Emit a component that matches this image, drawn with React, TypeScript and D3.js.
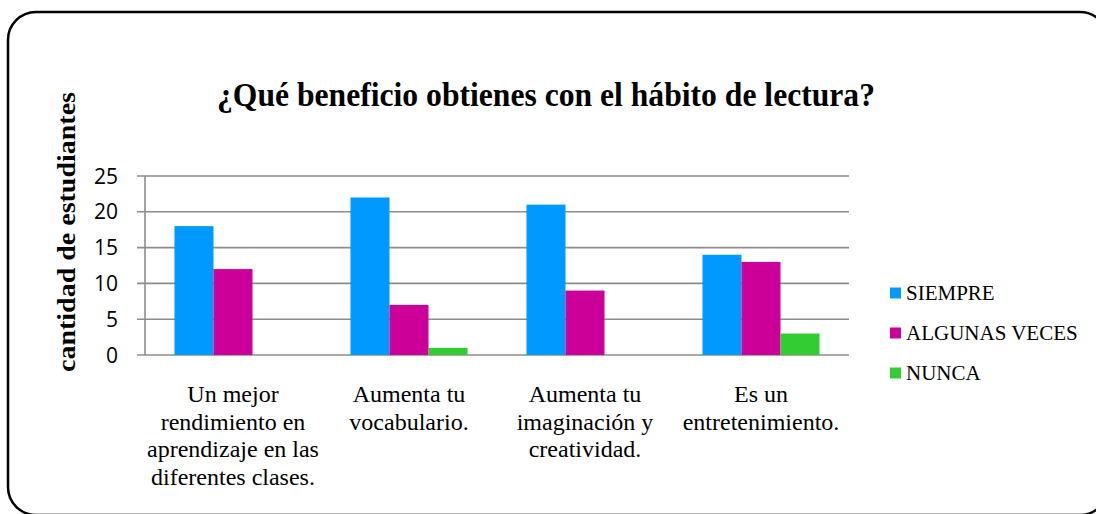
import React from "react";
import * as d3 from "d3";

const categories = [
  ["Un mejor", "rendimiento en", "aprendizaje en las", "diferentes clases."],
  ["Aumenta tu", "vocabulario."],
  ["Aumenta tu", "imaginación y", "creatividad."],
  ["Es un", "entretenimiento."],
];
const seriesNames = ["SIEMPRE", "ALGUNAS VECES", "NUNCA"];
const siempre = [18, 22, 21, 14];
const algunasVeces = [12, 7, 9, 13];
const nunca = [0, 1, 0, 3];
const yTicks = [0, 5, 10, 15, 20, 25];
const colors = ["#0099ff", "#cc0099", "#33cc33"];

const title = "¿Qué beneficio obtienes con el hábito de lectura?";
const yTitle = "cantidad de estudiantes";

const width = 1096;
const height = 514;

export default function App() {
  const plot = { left: 145, right: 849, top: 176, bottom: 355 };
  const series = [siempre, algunasVeces, nunca];
  const catKeys = categories.map((_, i) => String(i));

  const x = d3
    .scaleBand()
    .domain(catKeys)
    .range([plot.left, plot.right])
    .paddingInner(0.335)
    .paddingOuter(0.1675);
  const xs = d3
    .scaleBand()
    .domain(seriesNames)
    .range([0, x.bandwidth()]);
  const y = d3.scaleLinear().domain([0, 25]).range([plot.bottom, plot.top]);

  const serif = "'Liberation Serif', 'Times New Roman', serif";

  return (
    <svg
      width={width}
      height={height}
      style={{ position: "absolute", left: 0, top: 0, background: "#fff" }}
    >
      <rect
        x={8}
        y={12}
        width={1100}
        height={503}
        rx={28}
        ry={28}
        fill="#fff"
        stroke="#000"
        strokeWidth={2.5}
      />

      <text
        x={546}
        y={106}
        textAnchor="middle"
        fontFamily={serif}
        fontWeight="bold"
        fontSize={33}
        textLength={658}
        lengthAdjust="spacingAndGlyphs"
      >
        {title}
      </text>

      <text
        transform={`translate(75, ${(92 + 372) / 2}) rotate(-90)`}
        textAnchor="middle"
        fontFamily={serif}
        fontWeight="bold"
        fontSize={26}
        textLength={280}
        lengthAdjust="spacingAndGlyphs"
      >
        {yTitle}
      </text>

      {/* gridlines + y ticks */}
      {yTicks.map((t) => (
        <g key={t}>
          <line
            x1={plot.left - 8}
            x2={plot.right}
            y1={y(t)}
            y2={y(t)}
            stroke="#8c8c8c"
            strokeWidth={1.6}
          />
          <text
            x={118}
            y={y(t)}
            dy="0.36em"
            textAnchor="end"
            fontFamily="'Open Sans', sans-serif"
            fontSize={21}
            fill="#000"
          >
            {t}
          </text>
        </g>
      ))}
      <line
        x1={plot.left}
        x2={plot.left}
        y1={plot.top}
        y2={plot.bottom}
        stroke="#8c8c8c"
        strokeWidth={1.6}
      />

      {/* bars */}
      {catKeys.map((c, i) => (
        <g key={c} transform={`translate(${x(c)},0)`}>
          {series.map((vals, s) =>
            vals[i] > 0 ? (
              <rect
                key={s}
                x={xs(seriesNames[s])}
                y={y(vals[i])}
                width={xs.bandwidth()}
                height={y(0) - y(vals[i])}
                fill={colors[s]}
              />
            ) : null
          )}
        </g>
      ))}

      {/* x labels */}
      {categories.map((lines, i) => (
        <text
          key={i}
          x={(x(String(i)) as number) + x.bandwidth() / 2}
          y={402}
          textAnchor="middle"
          fontFamily={serif}
          fontSize={24}
        >
          {lines.map((l, j) => (
            <tspan key={j} x={(x(String(i)) as number) + x.bandwidth() / 2} dy={j === 0 ? 0 : 27.5}>
              {l}
            </tspan>
          ))}
        </text>
      ))}

      {/* legend */}
      {seriesNames.map((name, s) => (
        <g key={name} transform={`translate(890, ${293 + s * 40})`}>
          <rect x={0} y={-5.5} width={11} height={11} fill={colors[s]} />
          <text x={16} y={0} dy="0.34em" fontFamily={serif} fontSize={21}>
            {name}
          </text>
        </g>
      ))}
    </svg>
  );
}
